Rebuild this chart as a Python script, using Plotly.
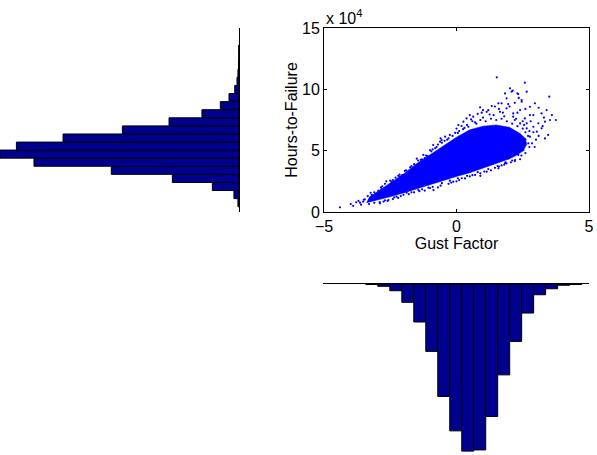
import plotly.graph_objects as go

# ---- scatter data (Gust Factor vs Hours-to-Failure, hours in units of 1e4) ----
# outline of the dense core of the point cloud
core_gust = [-3.4, -3.0, -2.5, -2.0, -1.5, -1.0, -0.5, 0.0, 0.5, 1.0, 1.5, 2.0, 2.2, 2.5, 2.65,
             2.6, 2.4, 2.0, 1.5, 1.0, 0.5, 0.0, -0.5, -1.0, -1.5, -2.0, -2.5, -3.0, -3.3]
core_hours = [0.75, 0.95, 1.25, 1.55, 1.9, 2.2, 2.55, 2.9, 3.2, 3.55, 3.95, 4.35, 4.55, 4.95, 5.5,
              6.0, 6.4, 6.9, 7.1, 7.0, 6.7, 6.1, 5.4, 4.7, 3.95, 3.1, 2.35, 1.65, 1.2]

# individual points around the edge of the cloud and the sparse tails
pts_gust = [
    -4.40, -3.99, -3.79, -3.64, -3.52, -3.46, -3.24, -3.08, -2.82, -2.51, -2.45, -2.13, -2.05,
    -1.75, -1.63, -1.38, -1.25, -1.20, -1.10, -2.89, -2.57, -2.26, -1.88, -1.44, -1.06, -0.87,
    -0.12, 0.32, 0.70, 1.14, 1.58, 1.83, 1.96, 2.21, 2.33, 2.52, 1.89, 1.80,
    -0.62, 0.07, 0.26, 0.95, 1.64, -1.00, -0.43, -0.88, -0.56, -0.25, 0.19, 0.38, 0.63, 0.89,
    1.14, 1.33, 1.58, 1.70, 1.89, 2.14, 2.14, 2.40, 2.58, 2.40, 2.65, 2.65, 2.77, 2.70, 2.46,
    1.89, 1.83, 2.08, 2.02, 2.12, 2.30, 2.33, 2.58, 2.65, 1.52, 2.46, 2.96, 2.77, 3.50, 3.40,
    3.21, 2.90, 3.53, 3.75, 3.34, 3.09, 3.21, 2.90, 3.46, 3.34, 3.03, 2.77, 2.71,
    -2.70, -2.30, -1.90, -1.60, -1.30, -0.80, -0.30, 0.10, 0.60, 1.00, 1.40, 1.80, 2.20, -3.20,
    -2.95, -2.60, -0.70, 0.50, 0.80, 1.20, 1.60, 2.00, 2.30, 2.50, 2.80, 2.90, 3.00, 2.85, 2.60,
    2.40, 2.05, 1.60, 1.30, 0.90, 0.50, 0.10, -0.30, -0.70, -1.20, -1.60, -2.10, -2.40, -2.75,
    -3.10, -3.30, -3.60, -3.90,
    0.40, 0.70, 0.90, 1.10, 1.30, 1.50, 1.70, 1.90, 2.10, 2.30, 2.50, 2.60, 0.55, 1.25, 1.75,
    2.25, 2.55, 2.75, 2.60, 2.75, 2.45, 2.20, 1.70, 1.45, 1.05, 0.60, 0.20, -0.20, -0.60, -1.00,
    -1.40, -1.80, -2.20, -2.60, -2.90, -0.90, -0.45, -0.05, 0.30, -1.35, -1.75, -2.15, -2.50,
    -2.85, -3.10, -3.35, -3.50, -3.70, 1.00, 1.45, 2.20, 2.60, 3.10, 2.35, 1.95, 3.25, 3.10,
    2.95, 3.60, 3.30,
    -2.80, -2.40, -2.20, -1.95, -1.70, -1.45, -1.15, -0.95, -0.75, -0.55, -0.35, -0.15, 0.05,
    0.25, 0.45, 0.75, -2.65, -1.50, -0.60, 0.00,
    -2.70, -2.35, -2.00, -1.70, -1.30, -0.90, -0.55, -0.25, 0.05, 0.40, 0.80, 1.20, 1.55, 1.85,
    2.10, 0.00, 0.90,
]
pts_hours = [
    0.38, 0.65, 0.79, 0.76, 0.84, 1.03, 1.57, 1.30, 1.85, 2.20, 2.47, 2.88, 3.00,
    3.37, 3.56, 3.97, 4.65, 4.40, 4.55, 0.71, 0.98, 1.25, 1.57, 1.79, 1.98, 1.79,
    2.47, 2.74, 3.02, 3.29, 3.56, 3.97, 4.37, 4.24, 4.65, 5.05, 3.97, 3.85,
    5.73, 7.09, 7.36, 8.10, 8.17, 5.05, 6.14, 5.46, 5.87, 6.28, 7.01, 7.63, 7.77, 8.53,
    8.17, 8.64, 8.86, 8.86, 8.45, 8.04, 7.77, 8.31, 7.63, 7.23, 6.82, 7.23, 7.90, 6.20, 8.99,
    9.27, 9.67, 9.81, 10.08, 9.89, 9.67, 9.62, 10.54, 9.81, 10.98, 9.13, 8.86, 8.58, 9.40, 8.31,
    8.04, 7.90, 7.50, 7.50, 7.36, 7.23, 6.82, 6.95, 6.28, 6.00, 6.55, 6.14, 5.60,
    2.30, 2.80, 3.40, 3.90, 4.30, 5.20, 6.00, 6.60, 7.40, 7.70, 7.90, 7.80, 7.50, 1.40,
    1.75, 2.00, 5.50, 7.90, 8.00, 8.30, 8.40, 8.60, 8.10, 7.40, 7.40, 6.50, 5.90, 5.60, 4.80,
    4.30, 4.05, 3.70, 3.40, 3.15, 2.90, 2.60, 2.30, 2.00, 1.75, 1.60, 1.30, 1.05, 0.85,
    0.75, 0.65, 0.60, 0.50,
    7.10, 7.30, 7.50, 7.40, 7.60, 7.50, 7.60, 7.40, 7.20, 7.00, 6.80, 6.50, 7.55, 7.95, 8.10,
    7.60, 7.10, 6.60, 5.90, 5.30, 4.60, 4.15, 3.80, 3.60, 3.30, 3.00, 2.75, 2.40, 2.15, 1.95,
    1.70, 1.45, 1.15, 0.90, 0.80, 5.10, 5.80, 6.45, 6.85, 4.25, 3.65, 3.05, 2.55,
    2.00, 1.60, 1.30, 1.00, 0.90, 8.30, 8.60, 8.90, 8.40, 8.50, 9.30, 8.80, 7.00, 6.20,
    5.30, 7.90, 7.70,
    2.10, 2.60, 2.95, 3.35, 3.75, 4.20, 4.60, 4.95, 5.30, 5.65, 5.90, 6.20, 6.45,
    6.75, 6.95, 7.20, 2.50, 4.35, 6.00, 6.80,
    0.95, 1.20, 1.40, 1.60, 1.85, 2.05, 2.35, 2.55, 2.75, 2.95, 3.25, 3.50, 3.75, 4.05,
    4.20, 2.50, 2.95,
]

# ---- marginal histogram of Hours-to-Failure (bin centres in 1e4 h, counts) ----
hours_bins = [0.76, 1.42, 2.08, 2.74, 3.40, 4.06, 4.72, 5.37, 6.03, 6.69,
              7.35, 8.01, 8.67, 9.33, 9.99, 10.65, 11.31, 11.97, 12.62, 13.28]
hours_counts = [8, 38, 200, 500, 958, 1538, 1793, 1670, 1320, 875,
                525, 278, 140, 75, 32, 15, 8, 4, 2, 2]
hours_bin_width = 0.659

# ---- marginal histogram of Gust Factor ----
gust_bins = [-3.164, -2.713, -2.263, -1.812, -1.362, -0.911, -0.460, -0.010, 0.441,
             0.892, 1.342, 1.793, 2.243, 2.694, 3.144, 3.595, 4.046, 4.496]
gust_counts = [5, 22, 64, 174, 361, 640, 1068, 1395, 1591,
               1576, 1258, 863, 545, 276, 102, 45, 12, 5]
gust_bin_width = 0.4506

W, H = 597, 455
FONT = "Liberation Sans, Arial, Helvetica, sans-serif"
POINT_BLUE = "rgb(0,0,255)"
BAR_BLUE = "rgb(0,0,143)"


def fx(px):
    return px / W


def fy(py):
    return 1 - py / H


fig = go.Figure()

# main scatter: dense core + individual points
fig.add_trace(go.Scatter(
    x=core_gust, y=core_hours, mode="lines", fill="toself",
    fillcolor=POINT_BLUE, line=dict(color=POINT_BLUE, width=0.5),
    xaxis="x", yaxis="y", hoverinfo="skip",
))
fig.add_trace(go.Scatter(
    x=pts_gust, y=pts_hours, mode="markers",
    marker=dict(color=POINT_BLUE, size=2.2, line=dict(width=0)),
    xaxis="x", yaxis="y",
))

# left marginal histogram (bars grow leftwards)
fig.add_trace(go.Bar(
    x=hours_counts, y=hours_bins, orientation="h", width=hours_bin_width,
    marker=dict(color=BAR_BLUE, line=dict(color="black", width=1)),
    xaxis="x2", yaxis="y2",
))

# bottom marginal histogram (bars grow downwards)
fig.add_trace(go.Bar(
    x=gust_bins, y=gust_counts, width=gust_bin_width,
    marker=dict(color=BAR_BLUE, line=dict(color="black", width=1)),
    xaxis="x3", yaxis="y3",
))

main_x_dom = [fx(324), fx(589)]
main_y_dom = [fy(212), fy(28)]

fig.update_layout(
    width=W, height=H, autosize=False,
    margin=dict(l=0, r=0, t=0, b=0, pad=0, autoexpand=False),
    paper_bgcolor="white", plot_bgcolor="white",
    showlegend=False,
    font=dict(family=FONT, size=16, color="black"),
    xaxis=dict(
        domain=main_x_dom, range=[-5, 5], anchor="y", automargin=False,
        tickvals=[-5, 0, 5], ticktext=["\u22125", "0", "5"],
        ticks="inside", ticklen=3, tickcolor="black",
        showline=True, linecolor="black", linewidth=1, mirror="ticks",
        showgrid=False, zeroline=False,
        title=dict(text="Gust Factor", standoff=0, font=dict(size=16)),
    ),
    yaxis=dict(
        domain=main_y_dom, range=[0, 15], anchor="x", automargin=False,
        tickvals=[0, 5, 10, 15], ticktext=["0", "5", "10", "15"],
        ticks="inside", ticklen=3, tickcolor="black",
        showline=True, linecolor="black", linewidth=1, mirror="ticks",
        showgrid=False, zeroline=False,
        title=dict(text="Hours-to-Failure", standoff=0, font=dict(size=16)),
    ),
    xaxis2=dict(
        domain=[0, fx(239)], range=[max(hours_counts), 0], anchor="y2", automargin=False,
        showline=False, showticklabels=False, ticks="", showgrid=False, zeroline=False,
    ),
    yaxis2=dict(
        domain=main_y_dom, range=[0, 15], anchor="x2", side="right", automargin=False,
        showline=True, linecolor="black", linewidth=1,
        showticklabels=False, ticks="", showgrid=False, zeroline=False,
    ),
    xaxis3=dict(
        domain=[fx(323), fx(589)], range=[-5, 5], anchor="y3", side="top", automargin=False,
        showline=True, linecolor="black", linewidth=1,
        showticklabels=False, ticks="", showgrid=False, zeroline=False,
    ),
    yaxis3=dict(
        domain=[fy(451.5), fy(284)], range=[max(gust_counts), 0], anchor="x3", automargin=False,
        showline=False, showticklabels=False, ticks="", showgrid=False, zeroline=False,
    ),
    annotations=[dict(
        text="x 10<sup>4</sup>", xref="paper", yref="paper",
        x=fx(324), y=fy(29), xanchor="left", yanchor="bottom",
        showarrow=False, font=dict(size=16),
    )],
)

fig.write_html("out.html")
